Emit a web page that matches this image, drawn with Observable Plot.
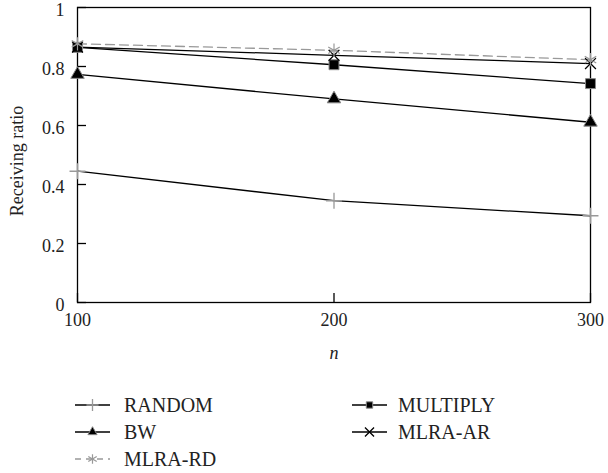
<!DOCTYPE html>
<html>
<head>
<meta charset="utf-8">
<script src="https://cdn.jsdelivr.net/npm/d3@7"></script>
<script src="https://cdn.jsdelivr.net/npm/@observablehq/plot@0.6"></script>
<style>
  html, body { margin: 0; padding: 0; background: #fff; }
  #chart svg { display: block; }
  #legend svg { display: block; }
</style>
</head>
<body>
<div id="chart"></div>
<div id="legend"></div>
<script>
// ---- data ----
const ns = [100, 200, 300];
const seriesNames = ["RANDOM", "BW", "MULTIPLY", "MLRA-AR", "MLRA-RD"];
const randomVals = [0.445, 0.345, 0.294];
const bwVals = [0.773, 0.690, 0.611];
const multiplyVals = [0.865, 0.806, 0.742];
const mlraArVals = [0.866, 0.838, 0.810];
const mlraRdVals = [0.877, 0.855, 0.823];
const yTicks = [0, 0.2, 0.4, 0.6, 0.8, 1];
const xTicks = [100, 200, 300];
const xLabel = "n";
const yLabel = "Receiving ratio";

const valuesBySeries = {
  "RANDOM": randomVals,
  "BW": bwVals,
  "MULTIPLY": multiplyVals,
  "MLRA-AR": mlraArVals,
  "MLRA-RD": mlraRdVals
};

const styles = {
  "RANDOM":   {line: "#000", dash: null,  symbol: "plus",     fill: "none", stroke: "#999", r: 5.2, sw: 1.3, lr: 4},
  "BW":       {line: "#000", dash: null,  symbol: "triangle", fill: "#000", stroke: "#888", r: 5,   sw: 1,   lr: 3.4},
  "MULTIPLY": {line: "#000", dash: null,  symbol: "square",   fill: "#000", stroke: "#888", r: 5.6, sw: 1,   lr: 3.6},
  "MLRA-AR":  {line: "#000", dash: null,  symbol: "times",    fill: "none", stroke: "#000", r: 5,   sw: 1.3, lr: 4.2},
  "MLRA-RD":  {line: "#999", dash: "9,5", symbol: "asterisk", fill: "none", stroke: "#999", r: 6.3, sw: 1.2, lr: 4.6}
};

const rows = [];
for (const s of seriesNames) {
  valuesBySeries[s].forEach((v, i) => rows.push({s, n: ns[i], v}));
}

const W = 608, H = 370;
const marginLeft = 77, marginRight = 18, marginTop = 7, marginBottom = 68;
const FONT = "'Liberation Serif', 'DejaVu Serif', serif";

const marks = [];
marks.push(Plot.frame({stroke: "#000", strokeWidth: 1.3}));
// inward ticks
marks.push(Plot.tickY(yTicks, {y: d => d, insetRight: (W - marginLeft - marginRight) - 9, stroke: "#000", strokeWidth: 1.3}));
marks.push(Plot.tickX(xTicks, {x: d => d, insetTop: (H - marginTop - marginBottom) - 9, stroke: "#000", strokeWidth: 1.3}));
marks.push(Plot.axisY(yTicks, {tickSize: 0, tickPadding: 13, dy: 2.5, tickFormat: d => String(d), label: null, fontSize: 18}));
marks.push(Plot.axisX(xTicks, {tickSize: 0, tickPadding: 11, tickFormat: d => String(d), label: null, fontSize: 18}));
marks.push(Plot.text([xLabel], {frameAnchor: "bottom", textAnchor: "middle", dy: 56, text: d => d, fontSize: 18, fontStyle: "italic"}));
marks.push(Plot.text([yLabel], {frameAnchor: "left", textAnchor: "middle", lineAnchor: "middle", dx: -60, dy: 6, rotate: -90, text: d => d, fontSize: 18}));

for (const s of seriesNames) {
  const st = styles[s];
  const data = rows.filter(d => d.s === s);
  marks.push(Plot.line(data, {x: "n", y: "v", stroke: st.line, strokeWidth: 1.3, strokeDasharray: st.dash}));
}
for (const s of seriesNames) {
  const st = styles[s];
  const data = rows.filter(d => d.s === s);
  marks.push(Plot.dot(data, {x: "n", y: "v", symbol: () => st.symbol, r: st.r, fill: st.fill, stroke: st.stroke, strokeWidth: st.sw}));
}

const chart = Plot.plot({
  width: W,
  height: H,
  marginLeft, marginRight, marginTop, marginBottom,
  style: {fontFamily: FONT, fontSize: "18px", color: "#222", background: "#fff"},
  x: {type: "linear", domain: [100, 300]},
  y: {type: "linear", domain: [0, 1]},
  symbol: {type: "identity"},
  marks
});
document.getElementById("chart").appendChild(chart);

// ---- legend ----
const legendItems = [
  {name: "RANDOM",   col: 0, row: 0},
  {name: "BW",       col: 0, row: 1},
  {name: "MLRA-RD",  col: 0, row: 2},
  {name: "MULTIPLY", col: 1, row: 0},
  {name: "MLRA-AR",  col: 1, row: 1}
];
const symMap = {
  plus: d3.symbolPlus, triangle: d3.symbolTriangle, square: d3.symbolSquare,
  times: d3.symbolTimes, asterisk: d3.symbolAsterisk
};
const colX = [75, 352], textX = [124, 398], rowY = [35, 62, 89], swW = 35;
const lsvg = d3.create("svg").attr("width", W).attr("height", 473 - H)
  .style("font-family", FONT);
for (const it of legendItems) {
  const st = styles[it.name];
  const g = lsvg.append("g").attr("transform", `translate(${colX[it.col]},${rowY[it.row]})`);
  g.append("line").attr("x1", 0).attr("x2", swW).attr("y1", 0).attr("y2", 0)
    .attr("stroke", st.line).attr("stroke-width", 1.3)
    .attr("stroke-dasharray", st.dash ? "6,5" : null);
  g.append("path").attr("transform", `translate(${swW / 2},0)`)
    .attr("d", d3.symbol(symMap[st.symbol], Math.PI * st.lr * st.lr)())
    .attr("fill", st.fill).attr("stroke", st.stroke).attr("stroke-width", st.sw);
  lsvg.append("text").attr("x", textX[it.col]).attr("y", rowY[it.row]).attr("dy", "0.34em")
    .attr("font-size", 20).attr("fill", "#222").text(it.name);
}
document.getElementById("legend").appendChild(lsvg.node());
</script>
</body>
</html>
